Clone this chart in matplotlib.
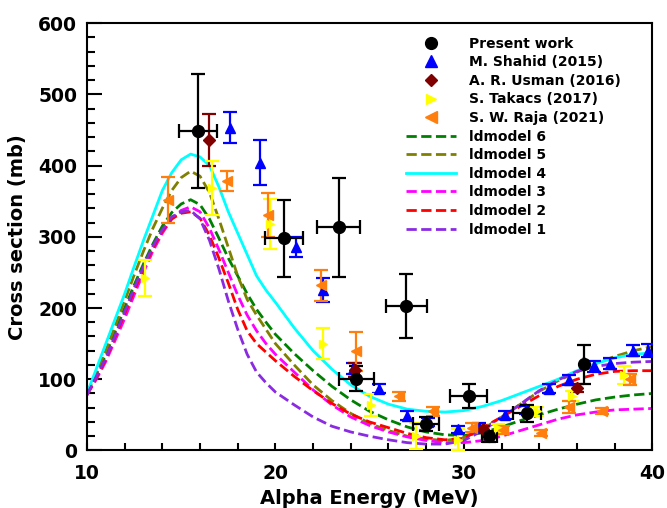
import matplotlib
matplotlib.use("Agg")
import matplotlib.pyplot as plt
from matplotlib.lines import Line2D
from matplotlib.ticker import MultipleLocator

plt.rcParams['font.family'] = ['DejaVu Sans']
plt.rcParams['font.weight'] = 'bold'

# ---------------- data ----------------
pw_E = [15.9, 20.45, 23.35, 24.3, 26.95, 28.0, 30.25, 31.35, 33.35, 36.35]
pw_v = [449, 298, 313, 101, 203, 37, 76, 20, 52, 121]
pw_err = [80, 54, 70, 18, 45, 10, 17, 8, 12, 27]
pw_xerr = [1.0, 1.0, 1.15, 0.95, 1.1, 0.7, 1.0, 0.4, 0.75, 0.0]

sh_E = [17.6, 19.2, 21.1, 22.5, 24.1, 25.5, 27.0, 28.1, 29.7, 30.8, 32.2, 33.3, 34.5, 35.6, 36.9, 37.75, 39.0, 39.75]
sh_v = [453, 404, 285, 225, 115, 87, 49, 40, 30, 33, 50, 57, 87, 99, 118, 122, 140, 140]
sh_err = [22, 32, 14, 17, 8, 6, 6, 5, 5, 5, 6, 6, 6, 7, 8, 8, 8, 9]

us_E = [16.5, 24.2, 31.0, 36.0]
us_v = [436, 113, 30, 88]
us_err = [36, 10, 5, 6]

ta_E = [13.1, 16.65, 19.7, 22.5, 25.05, 27.45, 29.7, 31.8, 33.9, 35.75, 38.5]
ta_v = [242, 368, 318, 150, 64, 20, 15, 31, 55, 76, 106]
ta_err = [25, 38, 35, 22, 15, 18, 15, 6, 6, 7, 12]

ra_E = [14.3, 17.45, 19.6, 22.4, 24.3, 26.55, 28.35, 30.45, 32.05, 34.1, 35.6, 37.35, 38.8]
ra_v = [352, 378, 331, 232, 139, 76, 55, 32, 29, 25, 61, 55, 100]
ra_err = [32, 14, 31, 22, 28, 6, 6, 6, 6, 4, 8, 4, 8]

ld_E = [10, 10.5, 11, 11.5, 12, 12.5, 13, 13.5, 14, 14.5, 15, 15.5, 16, 16.5, 17, 17.5,
        18, 18.5, 19, 19.5, 20, 21, 22, 23, 24, 25, 26, 27, 28, 29, 30, 31, 32, 33,
        34, 35, 36, 37, 38, 39, 40]
ld6 = [80, 107, 135, 167, 200, 232, 262, 290, 315, 334, 346, 352, 345, 325, 298, 270,
       245, 220, 198, 180, 163, 136, 112, 90, 71, 55, 43, 33, 26, 22, 21, 25, 33, 42,
       50, 58, 65, 71, 75, 78, 80]
ld5 = [80, 110, 140, 175, 210, 246, 280, 312, 340, 365, 383, 392, 385, 362, 325, 285,
       245, 212, 190, 170, 150, 120, 92, 70, 52, 38, 28, 20, 16, 14, 18, 30, 47, 65,
       83, 98, 110, 122, 132, 140, 146]
ld4 = [80, 115, 150, 185, 220, 258, 295, 330, 365, 390, 408, 416, 412, 400, 370, 335,
       305, 275, 245, 225, 208, 172, 140, 114, 92, 76, 65, 58, 55, 54, 56, 62, 70, 80,
       90, 100, 112, 122, 130, 135, 137]
ld3 = [78, 100, 125, 155, 185, 218, 250, 280, 305, 325, 337, 342, 335, 312, 282, 250,
       218, 190, 168, 150, 135, 110, 85, 64, 47, 35, 26, 19, 14, 11, 11, 14, 20, 28,
       36, 44, 50, 54, 57, 58, 59]
ld2 = [78, 102, 128, 160, 192, 224, 255, 284, 308, 325, 333, 335, 326, 302, 270, 235,
       198, 168, 150, 138, 126, 104, 84, 66, 51, 40, 32, 24, 18, 15, 17, 32, 47, 62,
       77, 90, 100, 107, 111, 112, 112]
ld1 = [78, 104, 130, 162, 195, 228, 258, 287, 310, 328, 335, 337, 325, 295, 255, 210,
       170, 135, 110, 95, 82, 64, 47, 34, 26, 20, 15, 11, 9, 9, 14, 28, 46, 65,
       84, 99, 111, 118, 122, 124, 125]

# ---------------- figure ----------------
fig = plt.figure(figsize=(6.67, 5.08), dpi=100)
ax = fig.add_axes([0.1304, 0.1132, 0.8476, 0.8415])

lw = 2.0
ax.plot(ld_E, ld6, '--', color='green', lw=lw, zorder=2)
ax.plot(ld_E, ld5, '--', color='olive', lw=lw, zorder=2)
ax.plot(ld_E, ld4, '-', color='cyan', lw=lw, zorder=2)
ax.plot(ld_E, ld3, '--', color='magenta', lw=lw, zorder=2)
ax.plot(ld_E, ld2, '--', color='red', lw=lw, zorder=2)
ax.plot(ld_E, ld1, '--', color='blueviolet', lw=lw, zorder=2)

ekw = dict(linestyle='none', elinewidth=1.6, capsize=5, capthick=1.6, zorder=3)
ax.errorbar(sh_E, sh_v, yerr=sh_err, fmt='^', color='blue', ms=7, **ekw)
ax.errorbar(us_E, us_v, yerr=us_err, fmt='D', color='#800000', ms=6, **ekw)
ax.errorbar(ta_E, ta_v, yerr=ta_err, fmt='>', color='#ffff00', ms=6, **ekw)
ax.errorbar(ra_E, ra_v, yerr=ra_err, fmt='<', color='#ff7f0e', ms=7, **ekw)
ax.errorbar(pw_E, pw_v, yerr=pw_err, xerr=pw_xerr, fmt='o', color='black', ms=8.5, **ekw)

ax.set_xlim(10, 40)
ax.set_ylim(0, 600)
ax.xaxis.set_major_locator(MultipleLocator(10))
ax.xaxis.set_minor_locator(MultipleLocator(2))
ax.yaxis.set_major_locator(MultipleLocator(100))
ax.yaxis.set_minor_locator(MultipleLocator(20))
ax.tick_params(axis='both', which='both', direction='in', width=1.5, labelsize=13.5)
ax.tick_params(axis='x', which='major', length=5, pad=10)
ax.tick_params(axis='x', which='minor', length=5)
ax.tick_params(axis='y', which='major', length=11, pad=7)
ax.tick_params(axis='y', which='minor', length=6)
for lab in ax.get_xticklabels() + ax.get_yticklabels():
    lab.set_fontweight('bold')
for s in ax.spines.values():
    s.set_linewidth(1.5)

ax.set_xlabel('Alpha Energy (MeV)', fontsize=14, fontweight='bold', labelpad=4)
ax.set_ylabel('Cross section (mb)', fontsize=14, fontweight='bold', labelpad=8)

handles = [
    Line2D([], [], ls='none', marker='o', color='black', ms=8.5),
    Line2D([], [], ls='none', marker='^', color='blue', ms=8),
    Line2D([], [], ls='none', marker='D', color='#800000', ms=6),
    Line2D([], [], ls='none', marker='>', color='#ffff00', ms=6.5),
    Line2D([], [], ls='none', marker='<', color='#ff7f0e', ms=8),
    Line2D([], [], ls='--', color='green', lw=lw),
    Line2D([], [], ls='--', color='olive', lw=lw),
    Line2D([], [], ls='-', color='cyan', lw=lw),
    Line2D([], [], ls='--', color='magenta', lw=lw),
    Line2D([], [], ls='--', color='red', lw=lw),
    Line2D([], [], ls='--', color='blueviolet', lw=lw),
]
labels = ['Present work', 'M. Shahid (2015)', 'A. R. Usman (2016)', 'S. Takacs (2017)',
          'S. W. Raja (2021)', 'ldmodel 6', 'ldmodel 5', 'ldmodel 4', 'ldmodel 3',
          'ldmodel 2', 'ldmodel 1']
leg = ax.legend(handles, labels, loc='upper left', bbox_to_anchor=(0.565, 0.968),
                frameon=False, borderpad=0, borderaxespad=0, handlelength=3.6,
                handletextpad=0.9, labelspacing=0.33, prop={'weight': 'bold', 'size': 10})

fig.savefig('out.png', dpi=100)
